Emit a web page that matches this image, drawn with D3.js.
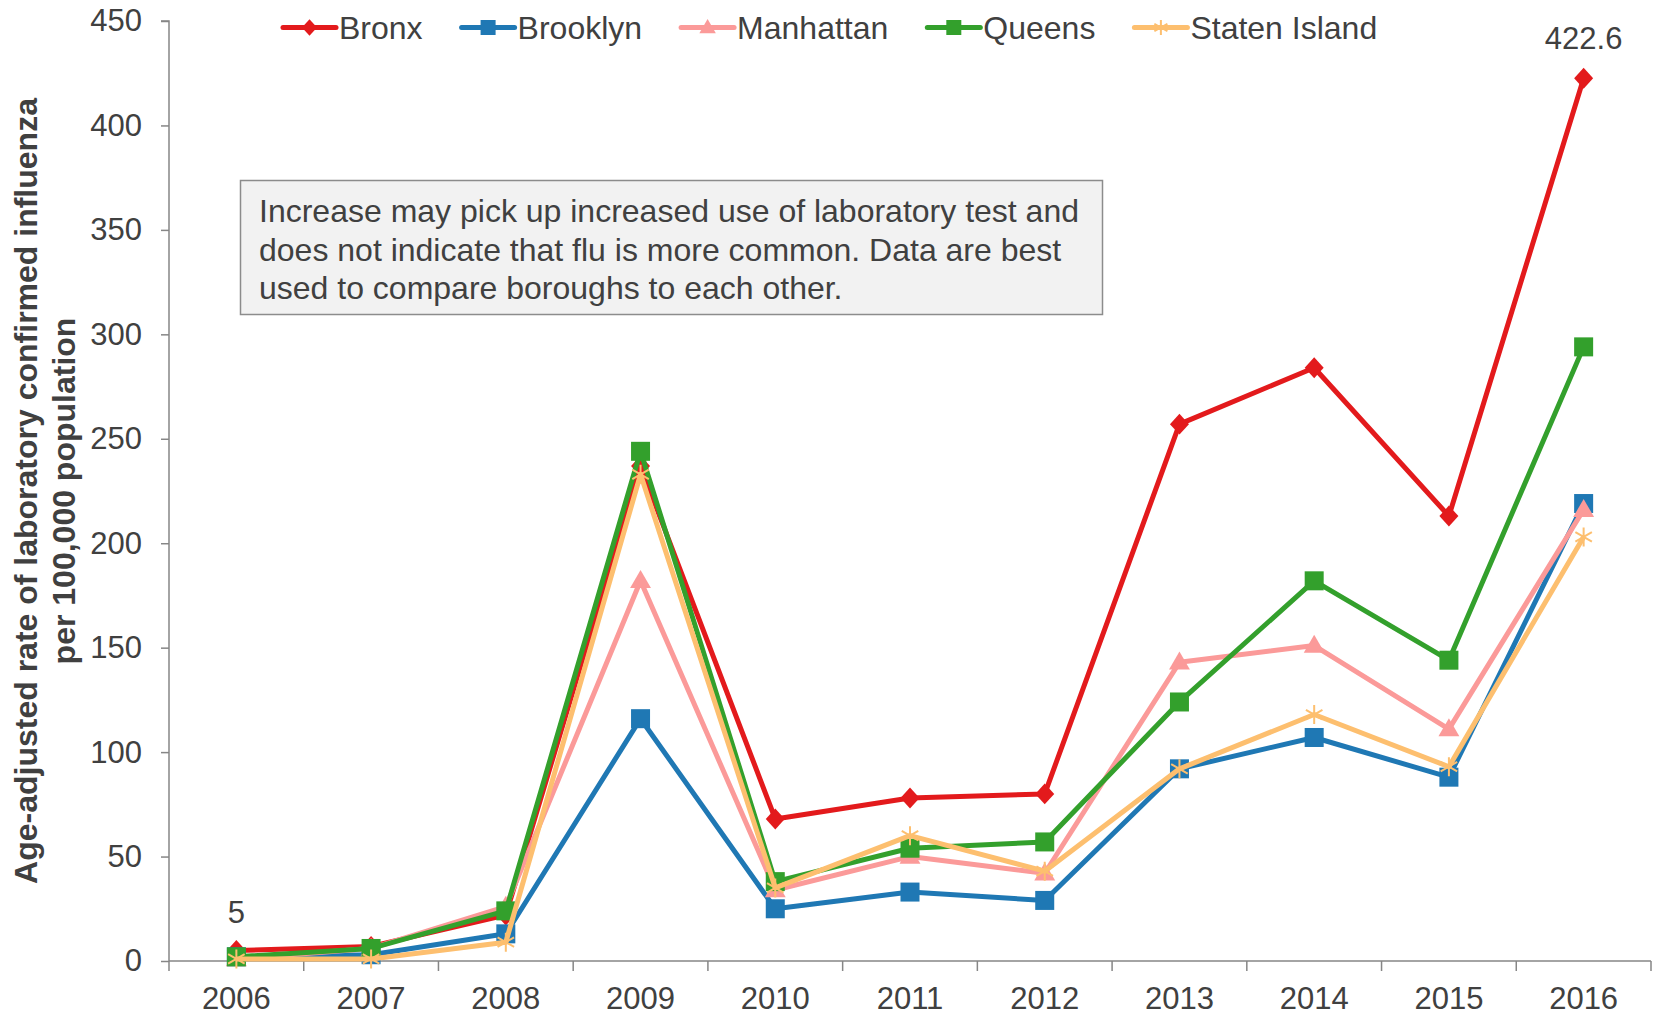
<!DOCTYPE html>
<html>
<head>
<meta charset="utf-8">
<script src="https://cdnjs.cloudflare.com/ajax/libs/d3/7.8.5/d3.min.js"></script>
<style>
  body { margin: 0; background: #fff; }
  svg text { font-family: "Liberation Sans", Arial, sans-serif; fill: #404040; }
</style>
</head>
<body>
<svg id="chart" width="1654" height="1015"></svg>
<script>
// data
const years = [2006, 2007, 2008, 2009, 2010, 2011, 2012, 2013, 2014, 2015, 2016];
const bronx     = [5, 7, 22, 237, 68, 78, 80, 257, 284, 213, 422.6];
const brooklyn  = [2, 3, 13, 116, 25, 33, 29, 92, 107, 88, 219];
const manhattan = [1, 6, 26, 182, 34, 50, 42, 143, 151, 111, 216];
const queens    = [2, 6, 24, 244, 38, 54, 57, 124, 182, 144, 294];
const staten    = [1, 1, 9, 233, 35, 60, 43, 92, 118, 93, 203];
const yTicks = [0, 50, 100, 150, 200, 250, 300, 350, 400, 450];

const series = [
  {name: "Bronx", values: bronx, color: "#e31a1c", marker: "diamond"},
  {name: "Brooklyn", values: brooklyn, color: "#1f78b4", marker: "square"},
  {name: "Manhattan", values: manhattan, color: "#fb9a99", marker: "triangle"},
  {name: "Queens", values: queens, color: "#33a02c", marker: "square"},
  {name: "Staten Island", values: staten, color: "#fdbf6f", marker: "star"}
];

const noteLines = [
  "Increase may pick up increased use of laboratory test and",
  "does not indicate that flu is more common. Data are best",
  "used to compare boroughs to each other."
];

const svg = d3.select("#chart");
const plotLeft = 169, plotRight = 1651, plotTop = 21, plotBottom = 961;

const x = d3.scaleBand().domain(years).range([plotLeft, plotRight]);
const y = d3.scaleLinear().domain([0, 450]).range([plotBottom, plotTop]);
const cx = d => x(d) + x.bandwidth() / 2;

// y axis
const yAxis = svg.append("g")
  .attr("transform", `translate(${plotLeft},0)`)
  .call(d3.axisLeft(y).tickValues(yTicks).tickSize(8).tickPadding(19));
yAxis.selectAll("line, path").attr("stroke", "#868686").attr("stroke-width", 1.5);
yAxis.selectAll("text").style("font-size", "31px").attr("fill", "#404040");
yAxis.select(".domain").attr("d", `M-8,${plotTop}H0V${plotBottom}`);

// x axis: labels centered in bands, ticks on the band edges
const xAxis = svg.append("g")
  .attr("transform", `translate(0,${plotBottom})`)
  .call(d3.axisBottom(x).tickSize(0).tickPadding(26));
xAxis.select(".domain").remove();
xAxis.selectAll("text").style("font-size", "31px").attr("fill", "#404040");
svg.append("line")
  .attr("x1", plotLeft).attr("x2", plotRight).attr("y1", plotBottom).attr("y2", plotBottom)
  .attr("stroke", "#868686").attr("stroke-width", 1.5);
const edges = years.map(d => x(d)).concat([plotRight]);
svg.append("g").selectAll("line").data(edges).join("line")
  .attr("x1", d => d).attr("x2", d => d)
  .attr("y1", plotBottom).attr("y2", plotBottom + 10)
  .attr("stroke", "#868686").attr("stroke-width", 1.5);

// y axis title
const title = svg.append("text")
  .attr("transform", `translate(0,${(plotTop + plotBottom) / 2}) rotate(-90)`)
  .attr("text-anchor", "middle")
  .style("font-size", "32px").style("font-weight", "bold");
title.append("tspan").attr("x", 0).attr("y", 37).text("Age-adjusted rate of laboratory confirmed influenza");
title.append("tspan").attr("x", 0).attr("y", 75).text("per 100,000 population");

// note box
const note = svg.append("g");
note.append("rect")
  .attr("x", 240.5).attr("y", 180.5).attr("width", 862).attr("height", 134)
  .attr("fill", "#f2f2f2").attr("stroke", "#8c8c8c").attr("stroke-width", 1.5);
note.selectAll("text").data(noteLines).join("text")
  .attr("x", 259).attr("y", (d, i) => 222 + i * 38.5)
  .style("font-size", "32px")
  .text(d => d);

// markers
function drawMarker(g, type, color, s) {
  if (type === "diamond") {
    g.append("path").attr("d", `M0,${-s * 0.55}L${s * 0.5},0L0,${s * 0.55}L${-s * 0.5},0Z`).attr("fill", color);
  } else if (type === "square") {
    g.append("rect").attr("x", -s / 2).attr("y", -s / 2).attr("width", s).attr("height", s).attr("fill", color);
  } else if (type === "triangle") {
    const h = s * 0.95;
    g.append("path").attr("d", `M0,${-h * 0.6}L${s * 0.55},${h * 0.4}L${-s * 0.55},${h * 0.4}Z`).attr("fill", color);
  } else if (type === "star") {
    const r = s / 2;
    const a = r * 0.87, b = r * 0.5;
    g.append("path")
      .attr("d", `M0,${-r}V${r}M${-a},${-b}L${a},${b}M${-a},${b}L${a},${-b}`)
      .attr("stroke", color).attr("stroke-width", 2).attr("fill", "none");
  }
}

const line = d3.line().x((d, i) => cx(years[i])).y(d => y(d));

series.forEach(s => {
  const g = svg.append("g");
  g.append("path")
    .datum(s.values)
    .attr("d", line)
    .attr("fill", "none")
    .attr("stroke", s.color)
    .attr("stroke-width", 5)
    .attr("stroke-linejoin", "round");
  g.selectAll("g.m").data(s.values).join("g")
    .attr("class", "m")
    .attr("transform", (d, i) => `translate(${cx(years[i])},${y(d)})`)
    .each(function() { drawMarker(d3.select(this), s.marker, s.color, 19); });
});

// data labels
svg.append("text")
  .attr("x", cx(2006)).attr("y", y(bronx[0]) - 28)
  .attr("text-anchor", "middle").style("font-size", "31px")
  .text(bronx[0]);
svg.append("text")
  .attr("x", cx(2016)).attr("y", y(bronx[10]) - 29)
  .attr("text-anchor", "middle").style("font-size", "31px")
  .text(bronx[10]);

// legend
const legend = svg.append("g");
let lx = 283;
const ly = 27.5;
series.forEach(s => {
  const g = legend.append("g").attr("transform", `translate(${lx},${ly})`);
  g.append("line").attr("x1", 0).attr("x2", 53).attr("y1", 0).attr("y2", 0)
    .attr("stroke", s.color).attr("stroke-width", 5).attr("stroke-linecap", "round");
  const m = g.append("g").attr("transform", "translate(26.5,0)");
  drawMarker(m, s.marker, s.color, 15);
  const t = g.append("text").attr("x", 56).attr("y", 11.5)
    .style("font-size", "32px").text(s.name);
  lx += 56 + t.node().getComputedTextLength() + 39;
});
</script>
</body>
</html>
